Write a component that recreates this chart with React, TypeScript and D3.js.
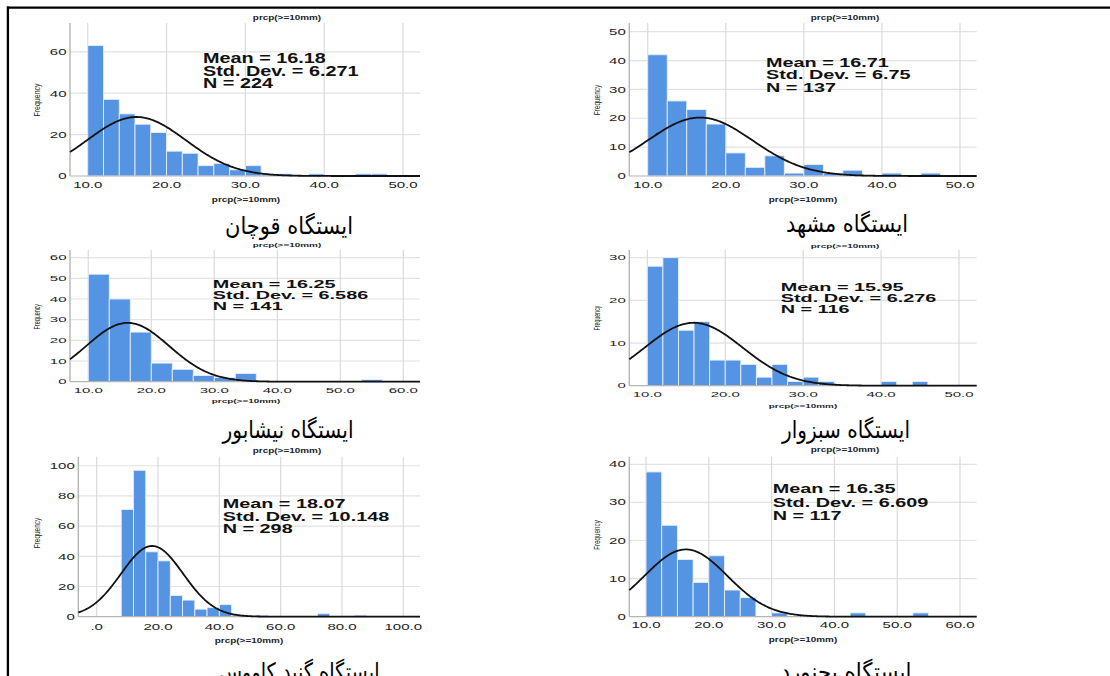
import React from "react";
import * as d3 from "d3";

// ---------- data ----------
const stationNames = [
  "ایستگاه قوچان",
  "ایستگاه مشهد",
  "ایستگاه نیشابور",
  "ایستگاه سبزوار",
  "ایستگاه گنبد کاووس",
  "ایستگاه بجنورد",
];
const meanValues = [16.18, 16.71, 16.25, 15.95, 18.07, 16.35];
const sdValues = [6.271, 6.75, 6.586, 6.276, 10.148, 6.609];
const nValues = [224, 137, 141, 116, 298, 117];
const meanLabels = ["16.18", "16.71", "16.25", "15.95", "18.07", "16.35"];
const sdLabels = ["6.271", "6.75", "6.586", "6.276", "10.148", "6.609"];
const binStarts = [10, 10, 10, 10, 8, 10];
const binWidths = [2, 2.5, 10 / 3, 2, 4, 2.5];

const quchanCounts = [63, 37, 30, 25, 21, 12, 11, 5, 6, 3, 5, 1, 1, 0, 1, 0, 0, 1, 1];
const mashhadCounts = [42, 26, 23, 18, 8, 3, 7, 1, 4, 1, 2, 0, 1, 0, 1];
const neyshaburCounts = [52, 40, 24, 9, 6, 3, 2, 4, 0, 0, 0, 0, 0, 1];
const sabzevarCounts = [28, 30, 13, 15, 6, 6, 5, 2, 5, 1, 2, 1, 0, 0, 0, 1, 0, 1];
const gonbadCounts = [71, 97, 43, 37, 14, 11, 5, 6, 8, 1, 0, 1, 0, 0, 0, 0, 2, 0, 0, 1];
const bojnurdCounts = [38, 24, 15, 9, 16, 7, 5, 0, 1, 0, 0, 0, 0, 1, 0, 0, 0, 1];
const countsList = [quchanCounts, mashhadCounts, neyshaburCounts, sabzevarCounts, gonbadCounts, bojnurdCounts];

const xTicks1 = [10, 20, 30, 40, 50];
const xTicks2 = [10, 20, 30, 40, 50, 60];
const xTicks3 = [0, 20, 40, 60, 80, 100];
const xTickList = [xTicks1, xTicks1, xTicks2, xTicks1, xTicks3, xTicks2];
const yTickList = [
  [0, 20, 40, 60],
  [0, 10, 20, 30, 40, 50],
  [0, 10, 20, 30, 40, 50, 60],
  [0, 10, 20, 30],
  [0, 20, 40, 60, 80, 100],
  [0, 10, 20, 30, 40],
];
const axisTitle = "prcp(>=10mm)";
const yTitle = "Frequency";

// ---------- layout ----------
type L = {
  x0: number; x1: number; y0: number; y1: number;
  xd: [number, number]; yMax: number; vs: number;
  sx: number; sy: number; sp: number; tickOff: number;
  topX: number; topY: number; botX: number; botY: number;
  fx: number; fy: number; tx: number; ty: number; tw: number;
};
const layouts: L[] = [
  { x0: 70, x1: 420, y0: 23, y1: 176, xd: [7.75, 52.16], yMax: 73.9, vs: 1, sx: 203, sy: 63.3, sp: 12.5, tickOff: 12.3, topX: 287, topY: 19.5, botX: 246, botY: 202, fx: 37, fy: 100, tx: 289, ty: 234, tw: 128 },
  { x0: 629.3, x1: 976.7, y0: 23, y1: 176, xd: [7.64, 52.14], yMax: 53.0, vs: 0.93, sx: 766, sy: 66.7, sp: 12.6, tickOff: 12.3, topX: 845, topY: 19.5, botX: 803, botY: 202, fx: 596.7, fy: 100, tx: 847, ty: 232, tw: 122 },
  { x0: 70, x1: 420, y0: 250, y1: 381.7, xd: [7.1, 62.65], yMax: 63.7, vs: 0.77, sx: 212.7, sy: 288.3, sp: 10.9, tickOff: 11.6, topX: 287, topY: 247, botX: 246, botY: 403, fx: 37, fy: 316.7, tx: 288, ty: 438, tw: 131 },
  { x0: 629.3, x1: 976.7, y0: 250, y1: 385.7, xd: [7.69, 52.27], yMax: 31.8, vs: 0.75, sx: 780.7, sy: 290.7, sp: 11, tickOff: 11, topX: 845, topY: 248, botX: 803, botY: 407.5, fx: 596.7, fy: 318, tx: 846, ty: 438, tw: 128 },
  { x0: 78.3, x1: 420, y0: 456.7, y1: 616.7, xd: [-6.0, 105.45], yMax: 106, vs: 0.93, sx: 222.7, sy: 507.7, sp: 12.8, tickOff: 13, topX: 287, topY: 453, botX: 249, botY: 642.5, fx: 37, fy: 533, tx: 299, ty: 680, tw: 161 },
  { x0: 629.3, x1: 976.7, y0: 456.7, y1: 616.7, xd: [7.34, 62.66], yMax: 42.0, vs: 0.9, sx: 772.7, sy: 493.3, sp: 13.3, tickOff: 11.7, topX: 845, topY: 452, botX: 803, botY: 641.5, fx: 596.7, fy: 535, tx: 846, ty: 680, tw: 131 },
];

const HS = 1.42;
const TICK_HS = 1.58;
const SANS = "'Liberation Sans', Arial, sans-serif";
const fmtTick = (v: number) => (v === 0 ? ".0" : v.toFixed(1));

function Panel({ i }: { i: number }) {
  const L = layouts[i];
  const xs = d3.scaleLinear().domain(L.xd).range([L.x0, L.x1]);
  const ys = d3.scaleLinear().domain([0, L.yMax]).range([L.y1, L.y0]);
  const counts = countsList[i];
  const bw = binWidths[i];
  const start = binStarts[i];
  const mu = meanValues[i], sd = sdValues[i], n = nValues[i];
  const pts: [number, number][] = d3.range(0, 301).map((k) => {
    const x = L.xd[0] + ((L.xd[1] - L.xd[0]) * k) / 300;
    const y = (n * bw * Math.exp(-0.5 * ((x - mu) / sd) ** 2)) / (sd * Math.sqrt(2 * Math.PI));
    return [x, y];
  });
  const line = d3.line<[number, number]>().x((d) => xs(d[0])).y((d) => ys(d[1]));
  const vs = L.vs;
  return (
    <g>
      {yTickList[i].filter((v) => v > 0).map((v) => (
        <line key={"hy" + v} x1={L.x0} x2={L.x1} y1={ys(v)} y2={ys(v)} stroke="#e2e2e2" strokeWidth={1.2} />
      ))}
      {xTickList[i].map((v) => (
        <line key={"vx" + v} x1={xs(v)} x2={xs(v)} y1={L.y0} y2={L.y1} stroke="#dadada" strokeWidth={1.2} />
      ))}
      {counts.map((c, k) =>
        c > 0 ? (
          <rect
            key={"b" + k}
            x={xs(start + k * bw)}
            width={xs(start + (k + 1) * bw) - xs(start + k * bw)}
            y={ys(c)}
            height={L.y1 - ys(c)}
            fill="#5593e3"
            stroke="#e6eefa"
            strokeWidth={0.9}
          />
        ) : null
      )}
      <line x1={L.x0} x2={L.x0} y1={L.y0} y2={L.y1} stroke="#b4b4b4" strokeWidth={1.4} />
      <line x1={L.x0} x2={L.x1} y1={L.y1} y2={L.y1} stroke="#b4b4b4" strokeWidth={1.2} />
      <path d={line(pts) || ""} fill="none" stroke="#111" strokeWidth={1.8} />
      {yTickList[i].map((v) => (
        <text
          key={"yt" + v}
          transform={`translate(${L.x0 - 3.5},${ys(v)}) scale(${TICK_HS},${vs})`}
          textAnchor="end"
          dy="0.36em"
          fontFamily={SANS}
          fontSize={9.5}
          fill="#222"
        >
          {v}
        </text>
      ))}
      {xTickList[i].map((v) => (
        <text
          key={"xt" + v}
          transform={`translate(${xs(v)},${L.y1 + L.tickOff}) scale(${TICK_HS},${vs})`}
          textAnchor="middle"
          fontFamily={SANS}
          fontSize={9.5}
          fill="#222"
        >
          {fmtTick(v)}
        </text>
      ))}
      <text transform={`translate(${L.topX},${L.topY}) scale(${HS},${vs})`} textAnchor="middle" fontFamily={SANS} fontWeight="bold" fontSize={7} fill="#222">
        {axisTitle}
      </text>
      <text transform={`translate(${L.botX},${L.botY}) scale(${HS},${vs})`} textAnchor="middle" fontFamily={SANS} fontWeight="bold" fontSize={7} fill="#222">
        {axisTitle}
      </text>
      <text transform={`translate(${L.fx},${L.fy}) scale(${HS},${vs}) rotate(-90)`} textAnchor="middle" dy="0.35em" fontFamily={SANS} fontSize={7} fill="#222">
        {yTitle}
      </text>
      {[`Mean = ${meanLabels[i]}`, `Std. Dev. = ${sdLabels[i]}`, `N = ${nValues[i]}`].map((t, k) => (
        <text
          key={"s" + k}
          transform={`translate(${L.sx},${L.sy + k * L.sp}) scale(${HS * 1.1},${vs * 1.1})`}
          fontFamily={SANS}
          fontWeight="bold"
          fontSize={12.7}
          fill="#111"
        >
          {t}
        </text>
      ))}
      <text
        x={L.tx}
        y={L.ty}
        textAnchor="middle"
        fontFamily="'DejaVu Sans', sans-serif"
        fontSize={24}
        textLength={L.tw}
        lengthAdjust="spacingAndGlyphs"
        fill="#000"
      >
        {stationNames[i]}
      </text>
    </g>
  );
}

export default function App() {
  return (
    <svg
      width={1110}
      height={676}
      viewBox="0 0 1110 676"
      style={{ position: "absolute", left: 0, top: 0, background: "#fff" }}
    >
      <rect x={0} y={0} width={1110} height={676} fill="#fff" />
      {layouts.map((_, i) => (
        <Panel key={i} i={i} />
      ))}
      <line x1={7} x2={1110} y1={7.7} y2={7.7} stroke="#000" strokeWidth={2.2} />
      <line x1={7.9} x2={7.9} y1={6.6} y2={676} stroke="#000" strokeWidth={2.3} />
    </svg>
  );
}
